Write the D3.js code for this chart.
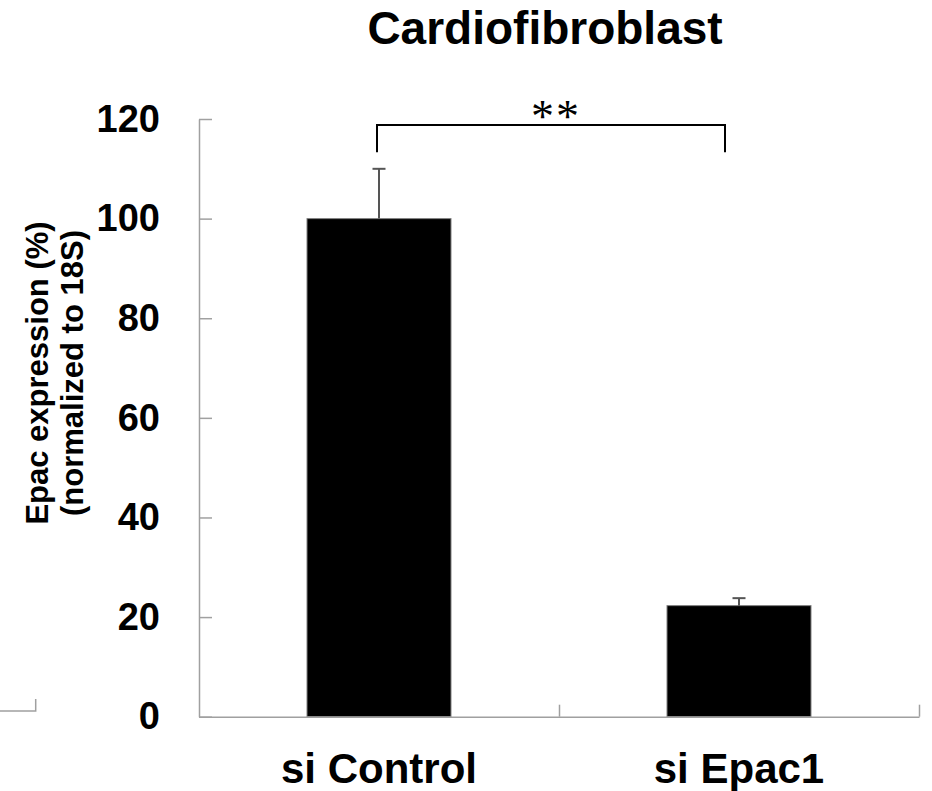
<!DOCTYPE html>
<html>
<head>
<meta charset="utf-8">
<script src="https://cdn.jsdelivr.net/npm/d3@7"></script>
<style>
  body { margin: 0; background: #fff; }
  svg text { font-family: "Liberation Sans", Arial, sans-serif; font-weight: bold; fill: #000; }
</style>
</head>
<body>
<svg id="chart" width="932" height="791"></svg>
<script>
// data
var categories = ['si Control', 'si Epac1'];
var values = [100, 22.3];
var errors = [10, 1.5];
var yTicks = [0, 20, 40, 60, 80, 100, 120];
var title = 'Cardiofibroblast';
var yLabel = ['Epac expression (%)', '(normalized to 18S)'];
var sigLabel = '**';

var svg = d3.select('#chart');
var axisColor = '#a0a0a0';

var y = d3.scaleLinear().domain([0, 120]).range([716.7, 119]);
var x = d3.scaleBand().domain(categories).range([199, 919])
  .paddingInner(0.6).paddingOuter(0.3);
// boundaries between categories, for the x axis ticks
var xb = d3.scaleLinear().domain([0, categories.length]).range([199, 919]);

// bars
svg.selectAll('rect.bar')
  .data(values)
  .enter()
  .append('rect')
  .attr('class', 'bar')
  .attr('x', function(d, i){ return x(categories[i]); })
  .attr('width', x.bandwidth())
  .attr('y', function(d){ return y(d); })
  .attr('height', function(d){ return y(0) - y(d); })
  .attr('fill', '#000')
  .attr('stroke', '#808080')
  .attr('stroke-width', 1);

// error bars (upper half only)
var err = svg.selectAll('g.err')
  .data(values)
  .enter()
  .append('g')
  .attr('class', 'err');
err.append('line')
  .attr('x1', function(d, i){ return x(categories[i]) + x.bandwidth() / 2; })
  .attr('x2', function(d, i){ return x(categories[i]) + x.bandwidth() / 2; })
  .attr('y1', function(d){ return y(d); })
  .attr('y2', function(d, i){ return y(d + errors[i]); })
  .attr('stroke', '#555')
  .attr('stroke-width', 2);
err.append('line')
  .attr('x1', function(d, i){ return x(categories[i]) + x.bandwidth() / 2 - 6.5; })
  .attr('x2', function(d, i){ return x(categories[i]) + x.bandwidth() / 2 + 6.5; })
  .attr('y1', function(d, i){ return y(d + errors[i]); })
  .attr('y2', function(d, i){ return y(d + errors[i]); })
  .attr('stroke', '#555')
  .attr('stroke-width', 2);

// y axis, ticks pointing inwards
var yAxis = svg.append('g')
  .attr('transform', 'translate(199,0)')
  .call(d3.axisLeft(y).tickValues(yTicks).tickSizeInner(-13).tickSizeOuter(0).tickPadding(39));
yAxis.selectAll('path, line').attr('stroke', axisColor).attr('stroke-width', 1.5);
yAxis.selectAll('text').style('font-size', '38px').attr('fill', '#000');

// x axis with boundary ticks
var xAxis = svg.append('g')
  .attr('transform', 'translate(0,' + y(0) + ')')
  .call(d3.axisBottom(xb).tickValues([1, 2]).tickSizeInner(-12).tickSizeOuter(0).tickFormat(''));
xAxis.selectAll('path, line').attr('stroke', axisColor).attr('stroke-width', 1.5);

// category labels
svg.selectAll('text.cat')
  .data(categories)
  .enter()
  .append('text')
  .attr('class', 'cat')
  .attr('x', function(d){ return x(d) + x.bandwidth() / 2; })
  .attr('y', 783)
  .attr('text-anchor', 'middle')
  .style('font-size', '42px')
  .text(function(d){ return d; });

// title
svg.append('text')
  .attr('x', 545)
  .attr('y', 44)
  .attr('text-anchor', 'middle')
  .style('font-size', '46px')
  .text(title);

// y axis title, two lines
svg.selectAll('text.ylab')
  .data(yLabel)
  .enter()
  .append('text')
  .attr('class', 'ylab')
  .attr('transform', function(d, i){ return 'translate(' + (48 + i * 35) + ',373) rotate(-90)'; })
  .attr('text-anchor', 'middle')
  .style('font-size', '31px')
  .text(function(d){ return d; });

// significance bracket
var bx1 = x(categories[0]) + x.bandwidth() / 2 - 2;
var bx2 = x(categories[1]) + x.bandwidth() / 2 - 14;
svg.append('path')
  .attr('d', 'M' + bx1 + ',' + y(113.3) + 'V' + y(118.8) + 'H' + bx2 + 'V' + y(113.3))
  .attr('fill', 'none')
  .attr('stroke', '#000')
  .attr('stroke-width', 2);
svg.append('text')
  .attr('x', 556)
  .attr('y', 132)
  .attr('text-anchor', 'middle')
  .style('font-family', '"Liberation Serif", serif')
  .style('font-weight', 'normal')
  .style('font-size', '46px')
  .style('letter-spacing', '2px')
  .text(sigLabel);

// stray corner mark left in the original figure
svg.append('path')
  .attr('d', 'M0,711H35.7V699')
  .attr('fill', 'none')
  .attr('stroke', axisColor)
  .attr('stroke-width', 1.5);
</script>
</body>
</html>
